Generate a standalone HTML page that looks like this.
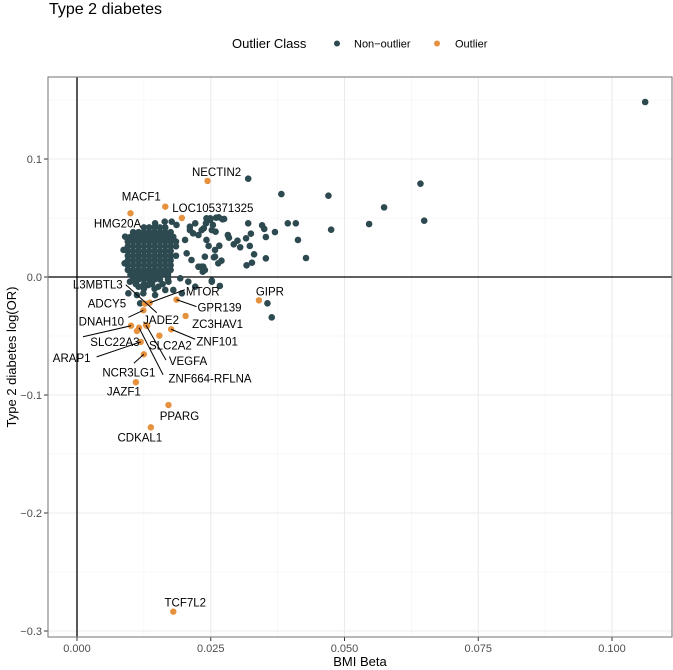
<!DOCTYPE html>
<html><head><meta charset="utf-8"><style>
html,body{margin:0;padding:0;background:#fff;}
svg{display:block;font-family:"Liberation Sans",Arial,sans-serif;}
</style></head><body>
<svg id="chart" width="673" height="670" viewBox="0 0 673 670" xmlns="http://www.w3.org/2000/svg">
<text x="49" y="14" font-size="16" fill="#000">Type 2 diabetes</text>
<g>
<text x="232" y="48" font-size="13" fill="#000">Outlier Class</text>
<circle cx="337" cy="43.5" r="3" fill="#2d4a50"/>
<text x="354" y="47.5" font-size="11" fill="#000">Non−outlier</text>
<circle cx="437" cy="43.5" r="3" fill="#e5913d"/>
<text x="455" y="47.5" font-size="11" fill="#000">Outlier</text>
</g>
<g id="grid"></g>
<g id="axes"></g>
<g id="marks"></g>
<g id="labels"></g>
<rect x="48" y="77" width="624" height="560" fill="none" stroke="#7f7f7f" stroke-width="1.1"/>
<text x="360" y="666" font-size="13" text-anchor="middle" fill="#000">BMI Beta</text>
<text transform="translate(16,357) rotate(-90)" font-size="13" text-anchor="middle" fill="#000">Type 2 diabetes log(OR)</text>
</svg>
<script>
const xTicks = [0, 0.025, 0.05, 0.075, 0.1];
const xTickLabels = ["0.000", "0.025", "0.050", "0.075", "0.100"];
const yTicks = [-0.3, -0.2, -0.1, 0, 0.1];
const yTickLabels = ["−0.3", "−0.2", "−0.1", "0.0", "0.1"];
const xMinor = [0.0125, 0.0375, 0.0625, 0.0875];
const yMinor = [-0.25, -0.15, -0.05, 0.05, 0.15];

const nonOutlierPoints = [
[0.1062,0.1483],[0.0320,0.0833],[0.0382,0.0703],[0.0470,0.0689],[0.0574,0.0590],[0.0546,0.0449],[0.0475,0.0401],
[0.0642,0.0791],[0.0649,0.0477],
[0.0394,0.0455],[0.0409,0.0455],[0.0320,0.0455],[0.0346,0.0438],[0.0350,0.0407],[0.0370,0.0381],[0.0325,0.0367],
[0.0413,0.0314],[0.0353,0.0339],[0.0316,0.0328],[0.0300,0.0308],[0.0293,0.0277],[0.0305,0.0252],[0.0323,0.0263],
[0.0331,0.0192],[0.0353,0.0158],[0.0428,0.0161],[0.0327,0.0121],[0.0317,0.0099],[0.0282,0.0356],[0.0284,0.0333],
[0.0266,0.0265],[0.0270,0.0138],[0.0264,0.0116],[0.0256,0.0167],[0.0259,0.0384],[0.0254,0.0441],[0.0265,0.0506],
[0.0275,0.0492],[0.0249,0.0497],[0.0241,0.0455],[0.0237,0.0413],[0.0246,0.0263],[0.0239,0.0172],[0.0233,0.0087],
[0.0235,0.0045],[0.0252,-0.0031],[0.0267,-0.0076],[0.0356,-0.0223],[0.0364,-0.0342],
[0.0146,0.0455],[0.0164,0.0469],[0.0186,0.0441],[0.0221,0.0455],[0.0211,0.0398],[0.0227,0.0356],[0.0202,0.0314],
[0.0205,0.0201],[0.0214,0.0144],[0.0227,0.0087],[0.0239,0.0059],[0.0193,-0.0011],[0.0208,-0.0040],[0.0171,-0.0040],
[0.0152,-0.0082],[0.0133,-0.0068],[0.0115,-0.0082],[0.0099,-0.0040],[0.0124,-0.0138],[0.0146,-0.0153],[0.0180,-0.0110],
[0.0196,-0.0138],[0.0221,-0.0082],[0.0090,0.0342],[0.0087,0.0229],[0.0089,0.0116],
[0.0108,0.0370],[0.0249,0.0483],[0.0252,0.0398],[0.0258,0.0229],[0.0242,0.0497],[0.0260,0.0503],[0.0272,0.0489],
[0.0177,0.0469],[0.0211,0.0426],[0.0233,0.0398],[0.0217,0.0370],[0.0242,0.0314],[0.0258,0.0172],[0.0236,0.0087],
[0.0096,-0.0138],[0.0112,-0.0153],[0.0118,-0.0223],[0.0252,-0.0040],
[0.0125,0.042],[0.0135,0.042],[0.0145,0.042],[0.0155,0.042],[0.0165,0.042],
[0.0105,0.038],[0.0115,0.038],[0.0125,0.038],[0.0135,0.038],[0.0145,0.038],[0.0155,0.038],[0.0165,0.038],[0.0175,0.038],
[0.010,0.034],[0.011,0.034],[0.012,0.034],[0.013,0.034],[0.014,0.034],[0.015,0.034],[0.016,0.034],[0.017,0.034],[0.018,0.034],
[0.0095,0.030],[0.0105,0.030],[0.0115,0.030],[0.0125,0.030],[0.0135,0.030],[0.0145,0.030],[0.0155,0.030],[0.0165,0.030],[0.0175,0.030],[0.0185,0.030],
[0.0095,0.026],[0.0105,0.026],[0.0115,0.026],[0.0125,0.026],[0.0135,0.026],[0.0145,0.026],[0.0155,0.026],[0.0165,0.026],[0.0175,0.026],[0.0185,0.026],
[0.0095,0.022],[0.0105,0.022],[0.0115,0.022],[0.0125,0.022],[0.0135,0.022],[0.0145,0.022],[0.0155,0.022],[0.0165,0.022],[0.0175,0.022],
[0.0095,0.018],[0.0105,0.018],[0.0115,0.018],[0.0125,0.018],[0.0135,0.018],[0.0145,0.018],[0.0155,0.018],[0.0165,0.018],[0.0175,0.018],[0.0185,0.018],
[0.0095,0.014],[0.0105,0.014],[0.0115,0.014],[0.0125,0.014],[0.0135,0.014],[0.0145,0.014],[0.0155,0.014],[0.0165,0.014],[0.0175,0.014],
[0.0095,0.010],[0.0105,0.010],[0.0115,0.010],[0.0125,0.010],[0.0135,0.010],[0.0145,0.010],[0.0155,0.010],[0.0165,0.010],[0.0175,0.010],
[0.0095,0.006],[0.0105,0.006],[0.0115,0.006],[0.0125,0.006],[0.0135,0.006],[0.0145,0.006],[0.0155,0.006],[0.0165,0.006],[0.0175,0.006],
[0.010,0.002],[0.011,0.002],[0.012,0.002],[0.013,0.002],[0.014,0.002],[0.015,0.002],[0.016,0.002],[0.017,0.002],
[0.0105,-0.002],[0.0115,-0.002],[0.0125,-0.002],[0.0135,-0.002],[0.0145,-0.002],[0.0155,-0.002],[0.0170,-0.002],
[0.011,-0.006],[0.0125,-0.006],[0.014,-0.006],[0.016,-0.006],
[0.0125,-0.010],[0.0145,-0.010],[0.0165,-0.011]
];

const outlierBeta = [0.0244, 0.0165, 0.0100, 0.0196, 0.0340, 0.0136, 0.0127, 0.0186, 0.0124, 0.0203, 0.0101, 0.0131, 0.0129, 0.0116, 0.0112, 0.0154, 0.0176, 0.0119, 0.0125, 0.0110, 0.0171, 0.0138, 0.0180];
const outlierLogOR = [0.0814, 0.0596, 0.0540, 0.0500, -0.0198, -0.0218, -0.0226, -0.0192, -0.0282, -0.0330, -0.0413, -0.0415, -0.0408, -0.0430, -0.0458, -0.0497, -0.0443, -0.0550, -0.0655, -0.0892, -0.1085, -0.1274, -0.2836];
const outlierNames = ["NECTIN2", "MACF1", "HMG20A", "LOC105371325", "GIPR", "MTOR", "ADCY5", "GPR139", "DNAH10", "ZC3HAV1", "", "JADE2", "VEGFA", "ZNF664-RFLNA", "SLC22A3", "SLC2A2", "ZNF101", "ARAP1", "NCR3LG1", "JAZF1", "PPARG", "CDKAL1", "TCF7L2"];
const extraLabelName = "L3MBTL3";

const labelLayout = [
 [9,-9,null],[-24,-10,null],[-13,10,null],[31,-10,null],[11,-9,null],[53,-11,[35,-13]],[-38,0,null],[43,8,[20,7]],
 [-42,11,[-15,7]],[32,8,null],[0,0,[-48,11]],[14,-6,null],[42,36,[20,35]],[71,51,[24,47]],[-22,11,null],[11,10,null],
 [46,12,[24,10]],[-69,16,[-44,15]],[-15,18,[-10,9]],[-12,9,null],[11,11,null],[-11,10,null],[12,-9,null]
];

const NS = "http://www.w3.org/2000/svg";
const X0 = 77, XS = 5350, Y0 = 277, YS = 1180;
function sx(v){ return X0 + v * XS; }
function sy(v){ return Y0 - v * YS; }
function mk(tag, attrs, parent){
  const e = document.createElementNS(NS, tag);
  for (const k in attrs) e.setAttribute(k, attrs[k]);
  parent.appendChild(e);
  return e;
}
const grid = document.getElementById("grid");
const axes = document.getElementById("axes");
const marks = document.getElementById("marks");
const labels = document.getElementById("labels");

mk("rect", {x:48, y:77, width:624, height:560, fill:"#fff"}, grid);
xMinor.forEach(v => {
  const l = mk("line", {x1:sx(v), x2:sx(v), y1:77, y2:637, stroke:"#f2f2f2", "stroke-width":0.6}, grid);
  
  
});
yMinor.forEach(v => {
  const l = mk("line", {x1:48, x2:672, y1:sy(v), y2:sy(v), stroke:"#f2f2f2", "stroke-width":0.6}, grid);
  
  
});
xTicks.forEach((v, i) => {
  const l = mk("line", {x1:sx(v), x2:sx(v), y1:77, y2:637, stroke:"#ebebeb", "stroke-width":1.1}, grid);
  
  
  const t = mk("line", {x1:sx(v), x2:sx(v), y1:637, y2:641, stroke:"#333", "stroke-width":1}, axes);
  
  
  const tx = mk("text", {x:sx(v), y:652, "font-size":11, "text-anchor":"middle", fill:"#4d4d4d"}, axes);
  tx.textContent = xTickLabels[i];
  
  
});
yTicks.forEach((v, i) => {
  const l = mk("line", {x1:48, x2:672, y1:sy(v), y2:sy(v), stroke:"#ebebeb", "stroke-width":1.1}, grid);
  
  
  const t = mk("line", {x1:44, x2:48, y1:sy(v), y2:sy(v), stroke:"#333", "stroke-width":1}, axes);
  
  
  const tx = mk("text", {x:42, y:sy(v)+4, "font-size":11, "text-anchor":"end", fill:"#4d4d4d"}, axes);
  tx.textContent = yTickLabels[i];
  
  
});
const zx = mk("line", {x1:sx(0), x2:sx(0), y1:77, y2:637, stroke:"#000", "stroke-width":1.3}, axes);


const zy = mk("line", {x1:48, x2:672, y1:sy(0), y2:sy(0), stroke:"#000", "stroke-width":1.3}, axes);



nonOutlierPoints.forEach(p => {
  const c = mk("circle", {cx:sx(p[0]), cy:sy(p[1]), r:3.3, fill:"#2d4a50"}, marks);
  
  
});

outlierBeta.forEach((b, i) => {
  const px = sx(b), py = sy(outlierLogOR[i]);
  const lay = labelLayout[i];
  if (lay[2]) {
    const ln = mk("line", {x1:px+lay[2][0], y1:py+lay[2][1], x2:px, y2:py, stroke:"#000", "stroke-width":1}, labels);
    
    
  }
  const c = mk("circle", {cx:px, cy:py, r:3.2, fill:"#e5913d"}, marks);
  
  
  if (outlierNames[i]) {
    const t = mk("text", {x:px+lay[0], y:py+lay[1]+4, "font-size":11.5, "text-anchor":"middle", fill:"#000"}, labels);
    t.textContent = outlierNames[i];
    
    
  }
});
(function(){
  const px = sx(outlierBeta[5]), py = sy(outlierLogOR[5]);
  const ln = mk("line", {x1:px-24, y1:py-18, x2:px+7, y2:py+10, stroke:"#000", "stroke-width":1}, labels);
  
  
  const t = mk("text", {x:px-52, y:py-18+4, "font-size":11.5, "text-anchor":"middle", fill:"#000"}, labels);
  t.textContent = extraLabelName;
  
  
})();
</script>
</body></html>
